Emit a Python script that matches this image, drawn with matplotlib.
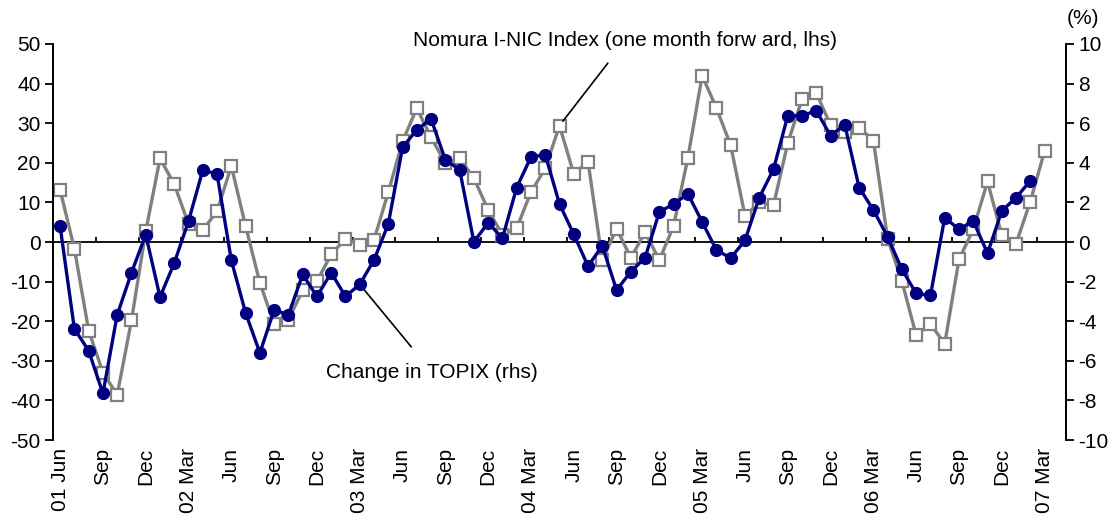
import numpy as np
import matplotlib.pyplot as plt

plt.rcParams['font.family'] = ['Liberation Sans', 'DejaVu Sans']
plt.rcParams['axes.unicode_minus'] = False

# Monthly data, Jun 2001 - Mar 2007
months = ['Jun', 'Jul', 'Aug', 'Sep', 'Oct', 'Nov', 'Dec', 'Jan', 'Feb', 'Mar', 'Apr', 'May']
start_year = 2001

# Nomura I-NIC Index (one month forward, lhs), Jun 01 - Mar 07
inic = [13.1, -1.7, -22.4, -33.0, -38.6, -19.8, 2.7,
        21.1, 14.6, 4.5, 3.0, 7.8, 19.2, 4.0, -10.3, -20.7, -19.6, -12.2, -9.9,
        -3.1, 0.8, -0.7, 0.5, 12.6, 25.4, 33.8, 26.4, 19.9, 21.2, 16.1, 8.1,
        1.8, 3.5, 12.6, 18.6, 29.4, 17.2, 20.3, -4.6, 3.4, -4.0, 2.5, -4.6,
        4.1, 21.3, 42.0, 33.8, 24.4, 6.6, 10.0, 9.3, 25.0, 36.1, 37.6, 29.5,
        27.8, 28.9, 25.6, 0.8, -9.9, -23.6, -20.7, -25.7, -4.4, 3.2, 15.3, 1.7,
        -0.4, 10.2, 23.0]

# Change in TOPIX (rhs, %), Jun 01 - Feb 07
topix = [0.79, -4.39, -5.49, -7.65, -3.68, -1.55, 0.37,
         -2.78, -1.06, 1.06, 3.63, 3.43, -0.93, -3.58, -5.60, -3.43, -3.68, -1.64, -2.75,
         -1.55, -2.75, -2.14, -0.91, 0.91, 4.78, 5.67, 6.21, 4.15, 3.65, 0.0, 0.98,
         0.19, 2.75, 4.29, 4.41, 1.92, 0.39, -1.22, -0.19, -2.43, -1.50, -0.79, 1.52,
         1.92, 2.43, 1.01, -0.41, -0.81, 0.08, 2.24, 3.68, 6.38, 6.38, 6.63, 5.37,
         5.91, 2.75, 1.62, 0.25, -1.38, -2.60, -2.70, 1.23, 0.64, 1.06, -0.57, 1.57,
         2.24, 3.09]

n = len(inic)
x_inic = np.arange(n)
x_topix = np.arange(len(topix))

# tick labels every 3 months, year prefix on March (and the first month)
tick_pos = np.arange(0, n, 3)
tick_labels = []
for i in tick_pos:
    m = months[i % 12]
    year = start_year + (i + 5) // 12
    if i == 0 or m == 'Mar':
        tick_labels.append(f"{year % 100:02d} {m}")
    else:
        tick_labels.append(m)

fs = 15

fig = plt.figure(figsize=(11.13, 5.16), dpi=100)
ax = fig.add_axes([53 / 1113, 76 / 516, 1013 / 1113, 396 / 516])
ax2 = ax.twinx()

ax.plot(x_inic, inic, color='#808080', lw=2.4, marker='s', ms=8.5,
        mfc='white', mec='#808080', mew=1.6, zorder=3)
ax2.plot(x_topix, topix, color='#000080', lw=2.4, marker='o', ms=8.5,
         mfc='#000080', mec='#000080', zorder=4)

ax.set_xlim(-0.5, n + 0.5)
ax.set_ylim(-50, 50)
ax2.set_ylim(-10, 10)
ax.set_yticks(np.arange(-50, 51, 10))
ax2.set_yticks(np.arange(-10, 11, 2))

# zero line with small tick marks between categories
ax.axhline(0, color='black', lw=1.3, zorder=2)
bounds = np.arange(-0.5 + 3, n + 0.5, 3)
ax.vlines(bounds, 0, 1.3, color='black', lw=1.3, zorder=2)

ax.set_xticks(tick_pos)
ax.set_xticklabels(tick_labels, rotation=90, fontsize=fs)
ax.tick_params(axis='x', length=0, pad=6)
ax.tick_params(axis='y', labelsize=fs, length=6, width=1.3, direction='out', pad=3)
ax2.tick_params(axis='y', labelsize=fs, length=6, width=1.3, direction='out', pad=3)

for a in (ax, ax2):
    a.spines['top'].set_visible(False)
    a.spines['bottom'].set_visible(False)
    a.spines['left'].set_linewidth(1.3)
    a.spines['right'].set_linewidth(1.3)
ax2.set_zorder(ax.get_zorder() + 1)
ax2.patch.set_visible(False)

# annotations
ax.annotate('Nomura I-NIC Index (one month forw ard, lhs)',
            xy=(35, inic[35]), xytext=(625, 475), textcoords='figure pixels',
            ha='center', va='center', fontsize=fs,
            arrowprops=dict(arrowstyle='-', color='black', lw=1.2,
                            shrinkA=9, shrinkB=4))
ax2.annotate('Change in TOPIX (rhs)',
             xy=(21, topix[21]), xytext=(432, 144), textcoords='figure pixels',
             ha='center', va='center', fontsize=fs,
             arrowprops=dict(arrowstyle='-', color='black', lw=1.2,
                             shrinkA=12, shrinkB=4))
fig.text(1083 / 1113, 1 - 18 / 516, '(%)', ha='center', va='center', fontsize=fs)

fig.savefig('out.png', dpi=100)
